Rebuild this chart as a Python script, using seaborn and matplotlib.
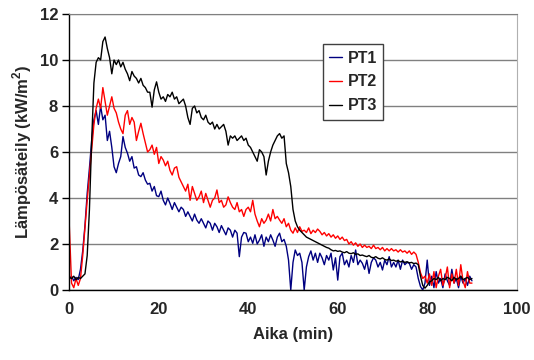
import numpy as np
import pandas as pd
import matplotlib
matplotlib.use("Agg")
import matplotlib.pyplot as plt
import seaborn as sns
from matplotlib.ticker import MultipleLocator

# time grid (min), 0.5 min sampling
time_min = np.arange(0, 90.5, 0.5)

pt1 = [
    0.5, 0.6, 0.4, 0.55, 0.45, 0.9, 1.7, 2.8, 4.2, 5.3,
    6.5, 7.4, 7.8, 7.2, 8.0, 7.4, 7.6, 6.5, 6.9, 6.2,
    5.36, 5.1, 5.5, 5.8, 6.67, 6.2, 5.95, 5.6, 5.8, 5.3,
    5.36, 5.0, 4.93, 5.1, 4.78, 4.6, 4.64, 4.3, 4.5, 4.1,
    4.06, 4.3, 3.9, 3.7, 4.0, 3.77, 3.5, 3.8, 3.6, 3.4,
    3.6, 3.5, 3.2, 3.4, 3.2, 3.0, 3.3, 3.04, 2.9, 3.1,
    2.9, 2.7, 3.0, 2.9, 2.6, 2.9, 2.75, 2.5, 2.8, 2.6,
    2.4, 2.7, 2.6, 2.3, 2.6, 2.47, 1.45, 2.3, 2.5, 2.47,
    2.1, 2.3, 2.03, 2.4, 2.0, 2.17, 2.4, 1.9, 2.3, 2.1,
    2.4, 2.17, 1.9, 2.3, 2.47, 2.1, 2.2, 1.9, 1.3, 0.0,
    1.2, 1.74, 1.5, 1.6, 1.2, 0.0, 1.0, 1.45, 1.7, 1.3,
    1.6, 1.2, 1.6, 1.4, 1.1, 1.5, 1.3, 1.6, 0.87, 1.4,
    0.43, 1.45, 1.6, 1.1, 1.3, 1.0, 1.5, 1.2, 1.74, 1.1,
    1.3, 1.16, 0.9, 1.3, 0.72, 1.2, 1.4, 1.3, 1.0, 1.2,
    0.87, 1.3, 1.1, 1.45, 1.0, 1.2, 1.0, 1.3, 0.9, 1.3,
    1.1, 1.2, 1.16, 0.9, 1.1, 1.0, 0.5, 0.15, 0.0, 0.3,
    1.3, 0.2, 0.6, 0.1, 0.8, 0.3, 0.5, 0.1, 0.7, 0.4,
    0.2, 0.9, 0.3, 0.5, 0.1, 0.6, 0.3, 0.5, 0.2, 0.6,
    0.4,
]

pt2 = [
    2.8, 0.3, 0.1, 0.5, 0.2, 0.5, 1.5, 2.7, 3.9, 5.0,
    6.1, 7.2, 7.9, 8.3, 7.9, 8.8, 8.2, 7.6, 8.0, 8.4,
    7.9, 7.7, 7.3, 7.0, 6.8, 7.6, 7.8, 7.2, 7.5, 7.3,
    6.5, 6.9, 7.25, 6.8, 6.4, 6.0, 6.1, 6.3, 5.9, 6.2,
    5.5, 5.8, 5.65, 5.4, 5.6, 5.2, 5.0, 5.3, 5.36, 4.9,
    4.7, 4.5, 4.3, 4.6, 3.9, 4.5, 4.2, 3.9, 4.05, 4.3,
    3.8, 4.2, 3.9, 3.6, 3.9, 4.0, 4.35, 3.8, 3.9, 3.6,
    3.7, 4.05, 3.8, 3.6, 3.5, 3.8, 3.4, 3.5, 3.2, 3.5,
    3.6, 3.4, 3.9, 3.3, 3.0, 2.75, 3.1, 2.9, 3.04, 3.3,
    3.0, 3.5, 3.1, 3.2, 3.04, 2.9, 3.1, 2.75, 2.9, 2.6,
    2.47, 2.7, 2.5, 2.75, 2.55, 2.6, 2.5, 2.7, 2.45, 2.6,
    2.5, 2.65, 2.55, 2.4, 2.5, 2.35, 2.45, 2.3, 2.4, 2.25,
    2.35, 2.2, 2.3, 2.15, 2.2, 2.0, 2.1, 1.95, 2.05, 1.9,
    2.0, 1.85, 1.95, 1.85, 1.9, 1.8, 1.95, 1.8, 1.85, 1.75,
    1.85, 1.7, 1.8, 1.7, 1.8, 1.7, 1.75, 1.65, 1.75, 1.65,
    1.7, 1.6, 1.7, 1.55, 1.65, 1.55, 1.2, 0.75, 0.5, 0.6,
    0.3, 0.7, 0.2, 0.8, 0.1, 0.6, 0.9, 0.2, 0.5, 1.0,
    0.1, 0.7, 0.3, 0.9, 0.2, 1.1, 0.4, 0.1, 0.8, 0.3,
    0.3,
]

pt3 = [
    0.55, 0.5, 0.6, 0.45, 0.55, 0.5, 0.6, 0.7, 1.5, 3.5,
    6.5, 9.0, 9.9, 10.1, 10.0, 10.8, 11.0, 10.5, 10.1, 9.4,
    10.0, 9.8, 10.0, 9.7, 9.9, 9.6, 9.4, 9.1, 9.5, 9.3,
    9.2, 9.0, 9.2, 8.9, 8.8, 8.6, 8.6, 7.95, 8.7, 9.05,
    8.6, 8.3, 8.4, 8.2, 8.5, 8.4, 8.6, 8.3, 8.4, 8.1,
    8.2, 8.3, 8.0, 7.5, 7.2, 7.9, 8.0, 7.7, 7.8, 7.5,
    7.4, 7.6, 7.3, 7.2, 7.3, 7.0, 7.2, 7.0, 7.1, 7.2,
    6.9, 6.3, 6.7, 6.6, 6.7, 6.5, 6.6, 6.7, 6.5, 6.6,
    6.3, 6.2, 6.0, 5.8, 5.6, 6.1, 6.0, 5.8, 5.0, 5.6,
    6.0, 6.3, 6.5, 6.7, 6.8, 6.6, 6.7, 5.5, 5.1, 4.5,
    3.5, 3.0, 2.75, 2.6, 2.5, 2.4, 2.3, 2.25, 2.2, 2.15,
    2.1, 2.05, 2.0, 1.95, 1.9, 1.85, 1.82, 1.75, 1.7, 1.72,
    1.68, 1.7, 1.65, 1.62, 1.67, 1.6, 1.58, 1.62, 1.55, 1.57,
    1.5, 1.52, 1.48, 1.45, 1.5, 1.42, 1.4, 1.45, 1.38, 1.35,
    1.4, 1.33, 1.3, 1.35, 1.28, 1.3, 1.25, 1.28, 1.22, 1.25,
    1.2, 1.23, 1.18, 1.2, 1.15, 1.17, 1.1, 0.6, 0.2, 0.08,
    0.2, 0.35, 0.4, 0.5, 0.45, 0.55, 0.4, 0.5, 0.45, 0.55,
    0.5, 0.4, 0.55, 0.45, 0.5, 0.6, 0.45, 0.5, 0.55, 0.45,
    0.5,
]

series_names = ["PT1", "PT2", "PT3"]
series_colors = ["#000080", "#FF0000", "#000000"]

sns.set_style("white")
plt.rcParams["font.family"] = ["Liberation Sans", "DejaVu Sans"]
plt.rcParams["font.weight"] = "bold"
plt.rcParams["mathtext.fontset"] = "custom"
plt.rcParams["mathtext.rm"] = "Liberation Sans:bold"
plt.rcParams["mathtext.bf"] = "Liberation Sans:bold"

fig = plt.figure(figsize=(5.34, 3.60), dpi=100)
ax = fig.add_axes([69.3 / 534, 1 - 290 / 360, (516.7 - 69.3) / 534, (290 - 14) / 360])

for name, vals, col in zip(series_names, [pt1, pt2, pt3], series_colors):
    df = pd.DataFrame({"t": time_min, "v": vals})
    sns.lineplot(data=df, x="t", y="v", ax=ax, color=col, lw=1.0, label=name)

ax.set_xlim(0, 100)
ax.set_ylim(0, 12)
ax.xaxis.set_major_locator(MultipleLocator(20))
ax.xaxis.set_minor_locator(MultipleLocator(4))
ax.yaxis.set_major_locator(MultipleLocator(2))
ax.yaxis.grid(True, color="#808080", lw=1)
ax.set_axisbelow(True)

for s in ["left", "bottom"]:
    ax.spines[s].set_color("black")
    ax.spines[s].set_linewidth(1)
ax.spines["top"].set_color("#808080")
ax.spines["right"].set_color("#b0b0b0")

ax.tick_params(axis="x", which="major", direction="inout", length=8, width=1,
               labelsize=12, pad=5, color="black")
ax.tick_params(axis="x", which="minor", direction="in", length=4, width=1, color="black")
ax.tick_params(axis="y", which="major", direction="out", length=5, width=1,
               labelsize=12, pad=3, left=True, color="black")
for lab in ax.get_xticklabels() + ax.get_yticklabels():
    lab.set_fontweight("bold")

ax.set_xlabel("Aika (min)", fontsize=12, fontweight="bold", labelpad=7)
ax.set_ylabel(r"Lämpösäteily (kW/m$^{\mathbf{2}}$)", fontsize=12, fontweight="bold", labelpad=4)

handles, labels = ax.get_legend_handles_labels()
leg = ax.legend(handles, labels, loc="upper left",
                bbox_to_anchor=((322.7 - 69.3) / 447.4, 1 - (44.3 - 14) / 276),
                borderaxespad=0, frameon=True, fancybox=False, handlelength=0.8,
                handletextpad=0.35, borderpad=0.4, labelspacing=0.55,
                prop={"weight": "bold", "size": 11.5})
leg.get_frame().set_edgecolor("#404040")
leg.get_frame().set_linewidth(1)
leg.get_frame().set_facecolor("white")
leg.get_frame().set_alpha(1)

fig.savefig("out.png", dpi=100)
